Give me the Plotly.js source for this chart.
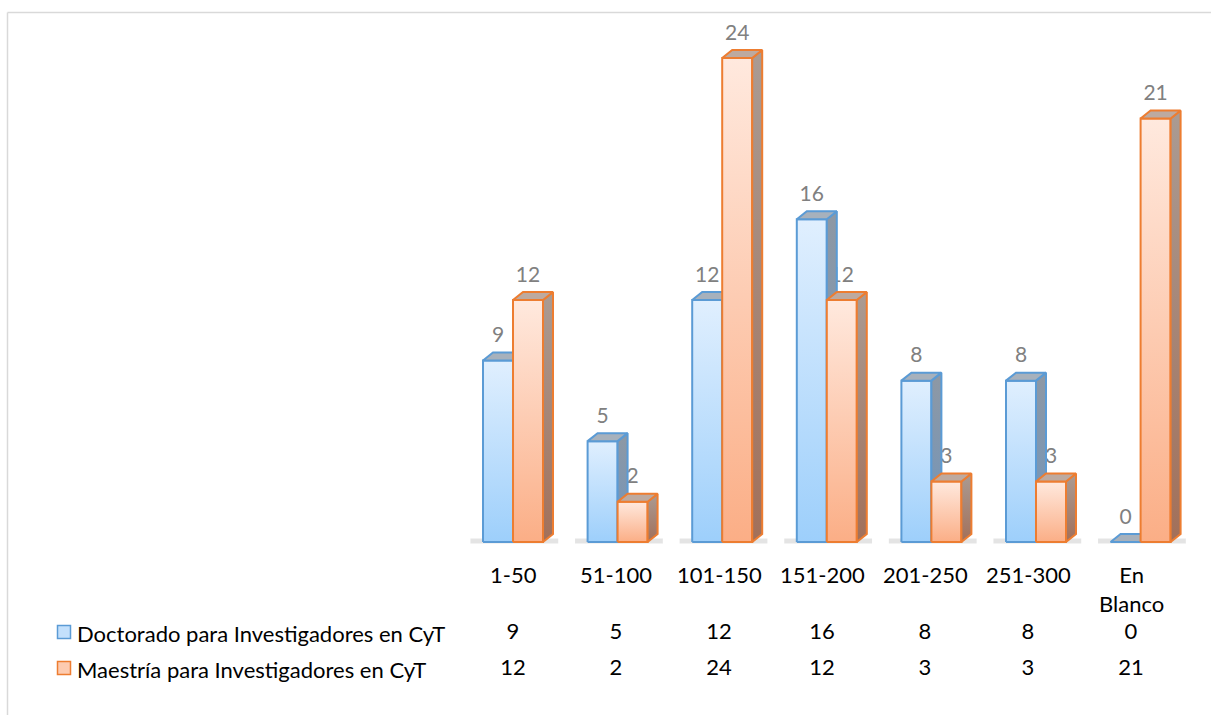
<!DOCTYPE html>
<html>
<head>
<meta charset="utf-8">
<script src="https://cdn.plot.ly/plotly-3.0.1.min.js"></script>
<style>html,body{margin:0;padding:0;background:#fff;}#chart{width:1211px;height:715px;}</style>
</head>
<body>
<div id="chart"></div>
<script>
// ---- data ----
const categories = ['1-50', '51-100', '101-150', '151-200', '201-250', '251-300', 'En<br>Blanco'];
const doctorado = [9, 5, 12, 16, 8, 8, 0];
const maestria = [12, 2, 24, 12, 3, 3, 21];
const seriesNames = ['Doctorado para Investigadores en CyT', 'Maestría para Investigadores en CyT'];

// ---- geometry (pixels -> axis units) ----
const W = 1211, H = 715;
const PX_CAT = 104.6, PX_UNIT = 20.17;      // px per category, px per value unit
const X0PX = 513, BASEPX = 542;             // pixel of category 0 centre and of value 0
const TBL_CAT = 103;                        // table column width
const BW = 30 / PX_CAT, DX = 10 / PX_CAT, DY = 8 / PX_UNIT;

const styles = [
  { line: '#5b9bd5', frontTop: '#e0effe', frontBot: '#9dcffb', sideTop: '#8e98a4', sideBot: '#6f95bd', top: '#a7b1bc', label: '#808080' },
  { line: '#ed7d31', frontTop: '#ffe9de', frontBot: '#fbae86', sideTop: '#aa9b93', sideBot: '#a2705a', top: '#bdaaa0', label: '#808080' }
];
const FONT = 'Lato, "Open Sans", sans-serif';

const traces = [];
function poly(xs, ys, s, fill, grad) {
  const t = {
    type: 'scatter', mode: 'lines', x: xs, y: ys, fill: 'toself',
    line: { color: styles[s].line, width: 2, shape: 'linear' },
    fillcolor: fill, hoverinfo: 'skip', showlegend: false, xaxis: 'x', yaxis: 'y'
  };
  if (grad) t.fillgradient = grad;
  return t;
}
function barTraces(vals, s) {
  const st = styles[s];
  vals.forEach((v, i) => {
    const xl = i + (s === 0 ? -BW : 0), xr = xl + BW;
    const top = Math.max(v, 0.0001);
    traces.push(poly([xl, xr, xr, xl, xl], [0, 0, v, v, 0], s, st.frontTop,
      { type: 'vertical', start: 0, stop: top, colorscale: [[0, st.frontBot], [1, st.frontTop]] }));
    traces.push(poly([xr, xr + DX, xr + DX, xr, xr], [0, DY, v + DY, v, 0], s, st.sideTop,
      { type: 'vertical', start: 0, stop: top + DY, colorscale: [[0, st.sideBot], [1, st.sideTop]] }));
    traces.push(poly([xl, xr, xr + DX, xl + DX, xl], [v, v, v + DY, v + DY, v], s, st.top, null));
  });
}
function labelTrace(vals, s) {
  traces.push({
    type: 'scatter', mode: 'text', hoverinfo: 'skip', showlegend: false,
    x: vals.map((v, i) => i + (s === 0 ? -BW / 2 : BW / 2)),
    y: vals.map(v => v + DY + 0.25),
    text: vals.map(String), textposition: 'top center',
    textfont: { family: FONT, size: 21, color: styles[s].label }
  });
}
// soft shadows under each pair of bars
categories.forEach((c, i) => {
  traces.push({
    type: 'scatter', mode: 'lines', hoverinfo: 'skip', showlegend: false,
    x: [i - BW - 0.12, i + BW + DX + 0.05], y: [0.05, 0.05],
    line: { color: 'rgba(90,90,90,0.16)', width: 5 }
  });
});
labelTrace(maestria, 1);
barTraces(doctorado, 0);
labelTrace(doctorado, 0);
barTraces(maestria, 1);

// data table rows
const tblX = categories.map((c, i) => i);
[doctorado, maestria].forEach((vals, r) => {
  traces.push({
    type: 'scatter', mode: 'text', hoverinfo: 'skip', showlegend: false,
    xaxis: 'x2', yaxis: 'y2', x: tblX, y: tblX.map(() => r === 0 ? 633 : 669),
    text: vals.map(String), textposition: 'middle center',
    textfont: { family: FONT, size: 22, color: '#000000' }
  });
});

const annotations = categories.map((c, i) => ({
  xref: 'x2', yref: 'y2', x: i, y: 559, text: c, showarrow: false,
  xanchor: 'center', yanchor: 'top', align: 'center',
  font: { family: FONT, size: 22, color: '#000000' }
}));
seriesNames.forEach((n, r) => {
  annotations.push({
    xref: 'paper', yref: 'y2', x: 75 / W, y: r === 0 ? 633 : 669, text: n, showarrow: false,
    xanchor: 'left', yanchor: 'middle', font: { family: FONT, size: 22, color: '#000000' }
  });
});
const shapes = [
  { type: 'line', xref: 'paper', yref: 'y2', x0: 7.5 / W, x1: 1, y0: 12.5, y1: 12.5, line: { color: '#d9d9d9', width: 1.5 } },
  { type: 'line', xref: 'paper', yref: 'y2', x0: 7.5 / W, x1: 7.5 / W, y0: 12.5, y1: 715, line: { color: '#d9d9d9', width: 1.5 } }
];
[0, 1].forEach(r => {
  const yc = r === 0 ? 632 : 668;
  shapes.push({
    type: 'rect', xref: 'paper', yref: 'y2', x0: 57.5 / W, x1: 70.5 / W, y0: yc - 6.5, y1: yc + 6.5,
    fillcolor: r === 0 ? '#c3e0fc' : '#fdcbb0', line: { color: styles[r].line, width: 1.5 }
  });
});

const layout = {
  width: W, height: H, margin: { l: 0, r: 0, t: 0, b: 0 },
  paper_bgcolor: '#ffffff', plot_bgcolor: 'rgba(0,0,0,0)', showlegend: false,
  xaxis: { range: [-X0PX / PX_CAT, (W - X0PX) / PX_CAT], visible: false, fixedrange: true },
  yaxis: { range: [-(H - BASEPX) / PX_UNIT, BASEPX / PX_UNIT], visible: false, fixedrange: true },
  xaxis2: { range: [-X0PX / TBL_CAT, (W - X0PX) / TBL_CAT], overlaying: 'x', visible: false, fixedrange: true },
  yaxis2: { range: [H, 0], overlaying: 'y', visible: false, fixedrange: true },
  annotations: annotations, shapes: shapes
};
Plotly.newPlot('chart', traces, layout, { staticPlot: true, displayModeBar: false });
</script>
</body>
</html>
